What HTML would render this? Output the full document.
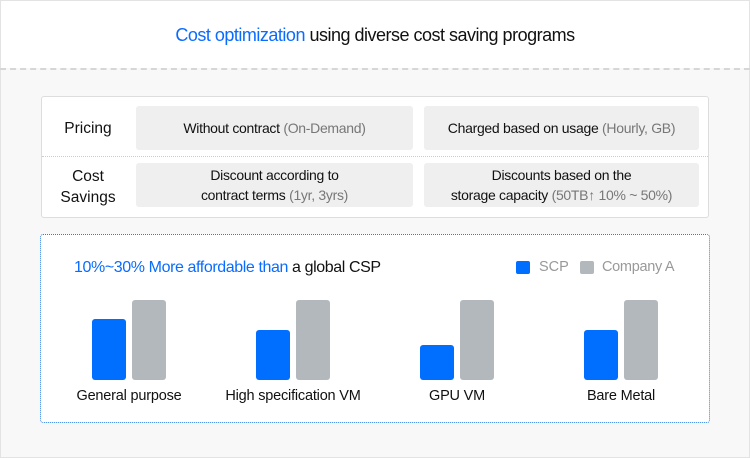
<!DOCTYPE html>
<html><head><meta charset="utf-8"><style>
*{margin:0;padding:0;box-sizing:border-box}
body{width:750px;height:458px;background:#f8f8f8;font-family:"Liberation Sans",sans-serif;position:relative;overflow:hidden;color:#111}
.a{position:absolute}
.c{text-align:center;white-space:nowrap}
.g{color:#777}
.cell{background:#efefef;border-radius:3px;display:flex;align-items:center;justify-content:center;text-align:center;font-size:14px;line-height:20px;letter-spacing:-0.3px}
.bar{position:absolute;border-radius:3px}
.b{background:#006eff}.s{background:#b3b8bd}
.lab{position:absolute;top:388px;font-size:14.5px;width:200px;text-align:center;letter-spacing:-0.2px}
</style></head><body>
<div class="a" style="left:0;top:0;width:750px;height:458px;border:1px solid #e3e3e3"></div>
<div class="a" style="left:1px;top:1px;width:748px;height:67px;background:#fff"></div>
<div class="a" style="left:0;top:68px;width:750px;border-top:2px dashed #d6d6d6"></div>
<div class="a c" style="left:0;top:25px;width:750px;font-size:18px;letter-spacing:-0.5px"><span style="color:#0a6cff">Cost optimization</span> using diverse cost saving programs</div>

<div class="a" style="left:41px;top:96px;width:668px;height:122px;background:#fff;border:1px solid #ddd;border-radius:3px"></div>
<div class="a" style="left:42px;top:156px;width:666px;border-top:1px dotted #ccc"></div>
<div class="a c" style="left:48px;top:120px;width:80px;font-size:15.5px">Pricing</div>
<div class="a c" style="left:48px;top:166px;width:80px;font-size:15.5px;line-height:21px">Cost<br>Savings</div>
<div class="a cell" style="left:136px;top:106px;width:277px;height:44px"><div>Without contract <span class="g">(On-Demand)</span></div></div>
<div class="a cell" style="left:424px;top:106px;width:275px;height:44px"><div>Charged based on usage <span class="g">(Hourly, GB)</span></div></div>
<div class="a cell" style="left:136px;top:163px;width:277px;height:44px"><div>Discount according to<br>contract terms <span class="g">(1yr, 3yrs)</span></div></div>
<div class="a cell" style="left:424px;top:163px;width:275px;height:44px"><div>Discounts based on the<br>storage capacity <span class="g">(50TB↑ 10% ~ 50%)</span></div></div>

<div class="a" style="left:40px;top:234px;width:670px;height:189px;background:#fff;border:1px dotted #2a7de8;border-radius:3px"></div>
<div class="a" style="left:74px;top:259px;font-size:16px;letter-spacing:-0.4px;white-space:nowrap"><span style="color:#0a6cff">10%~30% More affordable than</span> a global CSP</div>
<div class="a b" style="left:516px;top:261px;width:14px;height:13px;border-radius:2px"></div>
<div class="a g" style="left:539px;top:259px;font-size:14.5px;color:#999">SCP</div>
<div class="a s" style="left:580px;top:261px;width:14px;height:13px;border-radius:2px"></div>
<div class="a" style="left:602px;top:259px;font-size:14.5px;color:#999;letter-spacing:-0.3px">Company A</div>

<div class="bar b" style="left:92px;top:319px;width:34px;height:61px"></div>
<div class="bar s" style="left:132px;top:300px;width:34px;height:80px"></div>
<div class="bar b" style="left:256px;top:330px;width:34px;height:50px"></div>
<div class="bar s" style="left:296px;top:300px;width:34px;height:80px"></div>
<div class="bar b" style="left:420px;top:345px;width:34px;height:35px"></div>
<div class="bar s" style="left:460px;top:300px;width:34px;height:80px"></div>
<div class="bar b" style="left:584px;top:330px;width:34px;height:50px"></div>
<div class="bar s" style="left:624px;top:300px;width:34px;height:80px"></div>

<div class="lab" style="left:29px">General purpose</div>
<div class="lab" style="left:193px">High specification VM</div>
<div class="lab" style="left:357px">GPU VM</div>
<div class="lab" style="left:521px">Bare Metal</div>
</body></html>
